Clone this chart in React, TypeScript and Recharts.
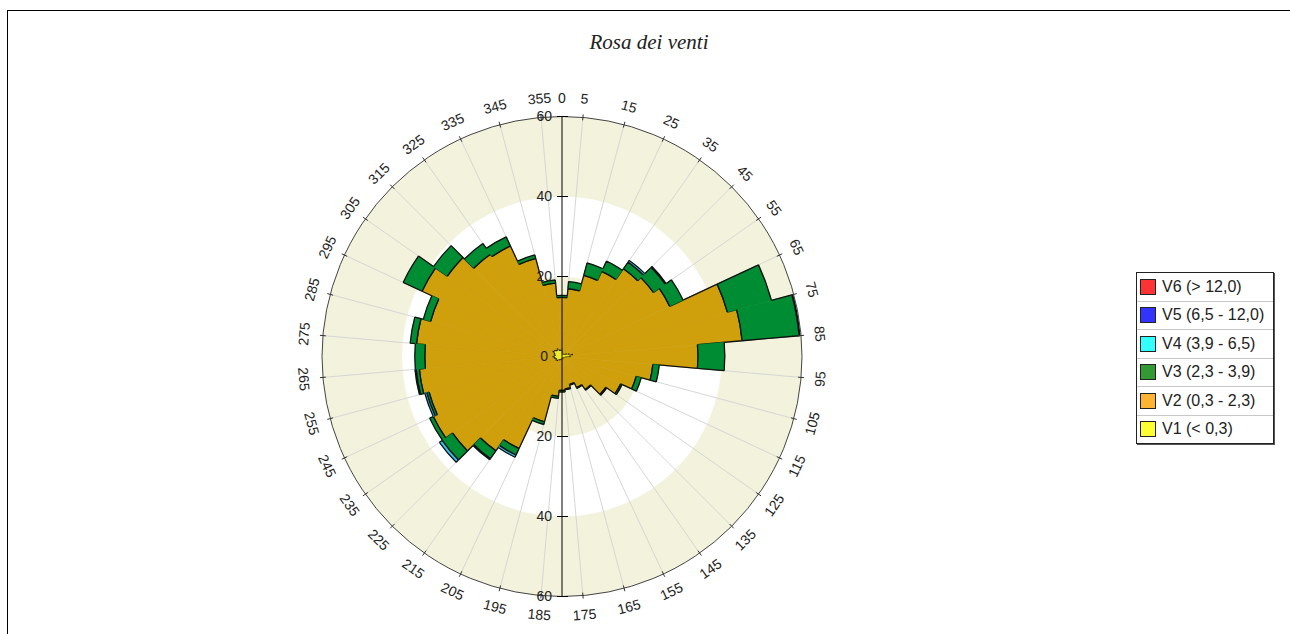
import React from 'react';
import { RadialBarChart, RadialBar, PolarAngleAxis, PolarRadiusAxis, PolarGrid, Legend, Sector } from 'recharts';

// wind directions (sector centres, degrees)
const directions = [0, 10, 20, 30, 40, 50, 60, 70, 80, 90, 100, 110, 120, 130, 140, 150, 160, 170,
  180, 190, 200, 210, 220, 230, 240, 250, 260, 270, 280, 290, 300, 310, 320, 330, 340, 350];

// frequency per class
const v1 = [1.6, 1.0, 0.7, 0.6, 0.7, 0.9, 1.2, 1.8, 2.6, 2.0, 1.1, 0.7, 0.6, 0.5, 0.5, 0.5, 0.4, 0.5,
  0.6, 0.7, 0.8, 0.9, 1.1, 1.5, 1.7, 1.6, 1.9, 2.2, 1.8, 2.0, 2.5, 2.3, 2.0, 2.2, 1.7, 1.6];
const v2 = [13.2, 16.0, 20.3, 22.9, 26.1, 27.0, 28.5, 41.0, 42.6, 32.0, 21.7, 18.5, 15.6, 12.9, 9.6, 8.1, 6.8, 7.6,
  7.9, 9.3, 16.1, 24.5, 27.7, 31.9, 33.8, 32.8, 33.9, 32.1, 34.7, 32.0, 36.1, 32.7, 29.2, 28.3, 23.7, 16.8];
const v3 = [0.5, 1.8, 3.2, 2.8, 2.0, 3.6, 3.7, 11.4, 14.3, 6.7, 1.6, 1.3, 0.4, 0.3, 0.2, 0.2, 0.2, 0.2,
  0.4, 0.5, 0.7, 1.8, 2.4, 3.2, 1.0, 0.6, 0.8, 2.5, 1.6, 1.9, 5.2, 4.2, 3.3, 2.5, 0.9, 0.8];
const v4 = [0, 0, 0, 0, 0.5, 0.3, 0, 0, 0.2, 0, 0, 0, 0, 0, 0, 0, 0, 0,
  0, 0, 0, 0.6, 0.3, 0.8, 0, 0.5, 0.3, 0, 0, 0, 0, 0, 0, 0, 0, 0];
const v5 = [0, 0, 0, 0, 0, 0, 0, 0, 0, 0, 0, 0, 0, 0, 0, 0, 0, 0,
  0, 0, 0, 0, 0, 0, 0, 0, 0, 0, 0, 0, 0, 0, 0, 0, 0, 0];
const v6 = [0, 0, 0, 0, 0, 0, 0, 0, 0, 0, 0, 0, 0, 0, 0, 0, 0, 0,
  0, 0, 0, 0, 0, 0, 0, 0, 0, 0, 0, 0, 0, 0, 0, 0, 0, 0];

const seriesKeys = ['v1', 'v2', 'v3', 'v4', 'v5', 'v6'];
const seriesNames = ['V1 (< 0,3)', 'V2 (0,3 - 2,3)', 'V3 (2,3 - 3,9)', 'V4 (3,9 - 6,5)', 'V5 (6,5 - 12,0)', 'V6 (> 12,0)'];
const plotColors = ['#eeee22', '#cf9f0c', '#008c32', '#33c4ee', '#2828e8', '#ee2222'];
const legendColors = ['#ffff33', '#ffb333', '#339933', '#33ffff', '#3333ff', '#ff3333'];
const radiusTicks = [0, 20, 40, 60];
const bandEdges = [60, 40, 20];
const bandColors = ['#f3f2dc', '#ffffff', '#f3f2dc'];

const W = 1282;
const H = 624;
const CX = 554;
const CY = 345.5;
const R = 240;
const RAD = Math.PI / 180;

const seriesValues = [v1, v2, v3, v4, v5, v6];
const data = directions.map((dir, i) => {
  const row: any = { dir };
  seriesKeys.forEach((k, s) => { row[k] = seriesValues[s][i]; });
  return row;
});
const cumulative = seriesValues.map((_, s) =>
  directions.map((_, i) => seriesValues.slice(0, s + 1).reduce((t, arr) => t + arr[i], 0)));

const pt = (cx: number, cy: number, r: number, a: number) => [cx + r * Math.cos(a * RAD), cy - r * Math.sin(a * RAD)];

// fill the wedge, then outline only the arcs and the steps to the neighbours
function makeShape(s: number) {
  return (props: any) => {
    const { cx, cy, innerRadius, outerRadius, startAngle, endAngle, payload } = props;
    if (!(outerRadius - innerRadius > 0.05)) return <g />;
    const n = directions.length;
    const i = directions.indexOf(payload.dir);
    const ppu = outerRadius / cumulative[s][i];
    const a0 = Math.max(startAngle, endAngle);
    const a1 = Math.min(startAngle, endAngle);
    const prevR = cumulative[s][(i - 1 + n) % n] * ppu;
    const nextR = cumulative[s][(i + 1) % n] * ppu;
    const [ox0, oy0] = pt(cx, cy, outerRadius, a0);
    const [ox1, oy1] = pt(cx, cy, outerRadius, a1);
    let d = `M${ox0},${oy0} A${outerRadius},${outerRadius} 0 0 1 ${ox1},${oy1}`;
    if (innerRadius > 0.5) {
      const [ix0, iy0] = pt(cx, cy, innerRadius, a0);
      const [ix1, iy1] = pt(cx, cy, innerRadius, a1);
      d += ` M${ix0},${iy0} A${innerRadius},${innerRadius} 0 0 1 ${ix1},${iy1}`;
    }
    if (prevR < outerRadius) {
      const [x0, y0] = pt(cx, cy, Math.max(innerRadius, prevR), a0);
      d += ` M${x0},${y0} L${ox0},${oy0}`;
    }
    if (nextR < outerRadius) {
      const [x1, y1] = pt(cx, cy, Math.max(innerRadius, nextR), a1);
      d += ` M${x1},${y1} L${ox1},${oy1}`;
    }
    return (
      <g>
        <Sector cx={cx} cy={cy} innerRadius={innerRadius} outerRadius={outerRadius}
          startAngle={startAngle} endAngle={endAngle} fill={plotColors[s]} stroke={plotColors[s]} strokeWidth={0.6} />
        <path d={d} fill="none" stroke="#111" strokeWidth={1.3} />
      </g>
    );
  };
}

// the axis puts each category's tick on the clockwise edge of its sector: label the edges
function AngleTick(props: any) {
  const { payload } = props;
  const dir = Number(payload.value);
  const labels = dir === 0 ? [0, 5] : [dir + 5];
  return (
    <g>
      {labels.map((b) => {
        const a = payload.coordinate + (dir + 5 - b);
        const [lx, ly] = pt(CX, CY, R + 19, a);
        const [t0x, t0y] = pt(CX, CY, R - 3, a);
        const [t1x, t1y] = pt(CX, CY, R + 3, a);
        const rot = b > 90 && b < 270 ? b - 180 : b;
        return (
          <g key={b}>
            {b !== 0 && <line x1={t0x} y1={t0y} x2={t1x} y2={t1y} stroke="#333" strokeWidth={1} />}
            <text x={lx} y={ly} transform={`rotate(${rot} ${lx} ${ly})`} textAnchor="middle"
              dominantBaseline="central" fontSize={14} fill="#222" fontFamily="'Liberation Sans', Arial, sans-serif">{b}</text>
          </g>
        );
      })}
    </g>
  );
}

function RadiusTick(props: any) {
  const { x, y, payload } = props;
  const v = payload.value;
  const yBelow = 2 * CY - y;
  const font = { fontSize: 14, fill: '#222', fontFamily: "'Liberation Sans', Arial, sans-serif" };
  return (
    <g>
      <text x={x - (v === 0 ? 14 : 10)} y={y - 1} textAnchor="end" dominantBaseline="central" {...font}>{v}</text>
      {v > 0 && <line x1={x - 5} x2={x + 6} y1={y} y2={y} stroke="#000" />}
      {v > 0 && <text x={x - 10} y={yBelow - 1} textAnchor="end" dominantBaseline="central" {...font}>{v}</text>}
      {v > 0 && <line x1={x - 5} x2={x + 6} y1={yBelow} y2={yBelow} stroke="#000" />}
      {v === radiusTicks[radiusTicks.length - 1] && <line x1={x} x2={x} y1={CY} y2={yBelow} stroke="#000" />}
    </g>
  );
}

function LegendBox() {
  const order = [5, 4, 3, 2, 1, 0];
  return (
    <div style={{ width: 136, border: '1px solid #222', boxShadow: '1px 1px 0 #555', background: '#fff' }}>
      {order.map((s, idx) => (
        <div key={s} style={{ height: 27.5, display: 'flex', alignItems: 'center', borderTop: idx ? '1px solid #c8c8c8' : 'none' }}>
          <span style={{ width: 14, height: 14, background: legendColors[s], border: '1px solid #222', margin: '0 6px 0 3px', flex: 'none' }} />
          <span style={{ fontSize: 16, color: '#222', fontFamily: "'Liberation Sans', Arial, sans-serif", whiteSpace: 'nowrap' }}>{seriesNames[s]}</span>
        </div>
      ))}
    </div>
  );
}

export default function App() {
  const gridAngles = directions.map((d) => 90 - d - 5);
  return (
    <div style={{ position: 'fixed', left: 7, top: 10, width: 1400, height: 700, borderTop: '1px solid #000', borderLeft: '1px solid #000', background: '#fff' }}>
      <style>{'body{overflow:hidden}'}</style>
      <div style={{ position: 'relative', width: W, height: H }}>
        <svg width={W} height={H} style={{ position: 'absolute', left: 0, top: 0 }}>
          {bandEdges.map((v, i) => (
            <circle key={v} cx={CX} cy={CY} r={(R * v) / radiusTicks[radiusTicks.length - 1]} fill={bandColors[i]} />
          ))}
        </svg>
        <RadialBarChart width={W} height={H} data={data} layout="centric" cx={CX} cy={CY} innerRadius={0} outerRadius={R}
          startAngle={85} endAngle={-275} barCategoryGap={0} barGap={0} margin={{ top: 0, right: 0, bottom: 0, left: 0 }}>
          <PolarGrid gridType="circle" polarAngles={gridAngles} polarRadius={[]} stroke="#d6d6d6" />
          {seriesKeys.map((k, s) => (
            <RadialBar key={k} dataKey={k} name={seriesNames[s]} stackId="wind" fill={plotColors[s]}
              shape={makeShape(s)} isAnimationActive={false} legendType="square" />
          ))}
          <PolarAngleAxis type="category" dataKey="dir" axisLineType="circle" axisLine={{ stroke: '#444' }}
            tickLine={false} tick={(p: any) => <AngleTick {...p} />} />
          <PolarRadiusAxis type="number" angle={90} domain={[0, 60]} ticks={radiusTicks} axisLine={{ stroke: '#000' }}
            tick={(p: any) => <RadiusTick {...p} />} />
          <Legend layout="vertical" align="right" verticalAlign="top" content={() => <LegendBox />}
            wrapperStyle={{ left: 1128, top: 261, right: 'auto', width: 140 }} />
        </RadialBarChart>
        <div style={{ position: 'absolute', left: 0, top: 20, width: W, textAlign: 'center', fontFamily: "'Liberation Serif', 'Times New Roman', serif",
          fontStyle: 'italic', fontSize: 21, lineHeight: '22px', color: '#222' }}>Rosa dei venti</div>
      </div>
    </div>
  );
}
